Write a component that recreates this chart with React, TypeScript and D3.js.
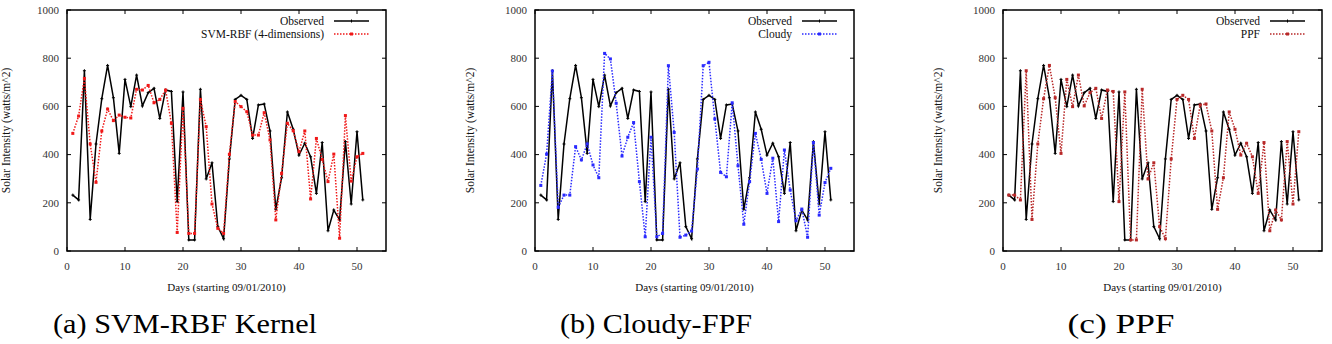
import { useEffect, useRef } from "react";
import * as d3 from "d3";

// days since 09/01/2010
const days = d3.range(1, 52);

const observed = [
  232, 212, 748, 131, 444, 632, 770, 636, 405, 712, 599, 730, 602, 657, 675, 550, 668,
  662, 205, 660, 46, 46, 671, 299, 366, 101, 51, 382, 629, 646, 629, 467, 606, 610, 498,
  173, 304, 577, 505, 398, 447, 391, 239, 450, 84, 170, 129, 454, 195, 495, 212,
];

const svmRbf = [
  488, 560, 716, 444, 285, 498, 589, 541, 564, 555, 552, 671, 668, 687, 615, 629, 668,
  530, 77, 592, 73, 73, 629, 516, 195, 94, 73, 401, 620, 599, 578, 481, 481, 574, 461,
  129, 322, 530, 499, 412, 498, 216, 467, 380, 288, 402, 53, 562, 290, 391, 405,
];

const cloudy = [
  272, 402, 747, 181, 232, 232, 433, 378, 444, 357, 304, 820, 797, 613, 394, 472, 533,
  288, 59, 472, 59, 73, 769, 492, 57, 66, 83, 340, 769, 783, 548, 326, 308, 615, 354,
  111, 288, 488, 380, 239, 385, 122, 419, 253, 126, 174, 57, 450, 149, 284, 343,
];

const ppf = [
  232, 232, 212, 748, 131, 444, 632, 770, 636, 405, 712, 599, 730, 602, 657, 675, 550,
  668, 662, 205, 660, 46, 46, 671, 299, 366, 101, 51, 382, 629, 646, 629, 467, 606, 610,
  498, 173, 304, 577, 505, 398, 447, 391, 239, 450, 84, 170, 129, 454, 195, 495,
];

const xTicks = [0, 10, 20, 30, 40, 50];
const yTicks = [0, 200, 400, 600, 800, 1000];

const panels = [
  { left: 67, label: "SVM-RBF (4-dimensions)", values: svmRbf, color: "#f01818", caption: "(a) SVM-RBF Kernel", capX: 185, capW: 264 },
  { left: 535, label: "Cloudy", values: cloudy, color: "#2a2aff", caption: "(b) Cloudy-FPF", capX: 656, capW: 192 },
  { left: 1003, label: "PPF", values: ppf, color: "#b82828", caption: "(c) PPF", capX: 1121, capW: 107 },
];

const W = 1332;
const H = 344;
const plotW = 319;
const top = 10;
const bottom = 251;
const font = "Liberation Serif, DejaVu Serif, serif";

const App = () => {
  const svgRef = useRef(null);

  useEffect(() => {
    const svg = d3.select(svgRef.current);
    svg.selectAll("*").remove();

    panels.forEach((p) => {
      const x = d3.scaleLinear().domain([0, 55]).range([p.left, p.left + plotW]);
      const y = d3.scaleLinear().domain([0, 1000]).range([bottom, top]);
      const g = svg.append("g");

      const txt = (sel) => sel.attr("font-family", font);

      // ticks (inward, mirrored)
      xTicks.forEach((t) => {
        g.append("line").attr("x1", x(t)).attr("x2", x(t)).attr("y1", bottom).attr("y2", bottom - 4).attr("stroke", "#000");
        g.append("line").attr("x1", x(t)).attr("x2", x(t)).attr("y1", top).attr("y2", top + 4).attr("stroke", "#000");
        g.append("text")
          .call(txt)
          .attr("x", x(t))
          .attr("y", 270)
          .attr("text-anchor", "middle")
          .attr("font-size", 11)
          .attr("fill", "#333")
          .text(t);
      });
      yTicks.forEach((t) => {
        g.append("line").attr("x1", p.left).attr("x2", p.left + 4).attr("y1", y(t)).attr("y2", y(t)).attr("stroke", "#000");
        g.append("line").attr("x1", p.left + plotW).attr("x2", p.left + plotW - 4).attr("y1", y(t)).attr("y2", y(t)).attr("stroke", "#000");
        g.append("text")
          .call(txt)
          .attr("x", p.left - 8)
          .attr("y", y(t))
          .attr("dy", "0.35em")
          .attr("text-anchor", "end")
          .attr("font-size", 11)
          .attr("fill", "#333")
          .text(t);
      });

      const line = d3
        .line()
        .x((d) => x(d[0]))
        .y((d) => y(d[1]));

      const obsPts = days.map((d, i) => [d, observed[i]]);
      const predPts = days.map((d, i) => [d, p.values[i]]);

      g.append("path")
        .attr("d", line(obsPts))
        .attr("fill", "none")
        .attr("stroke", "#000")
        .attr("stroke-width", 1.5);
      g.selectAll(".obs")
        .data(obsPts)
        .enter()
        .append("path")
        .attr("d", (d) => `M${x(d[0]) - 1.5},${y(d[1])}h3M${x(d[0])},${y(d[1]) - 1.5}v3`)
        .attr("stroke", "#000")
        .attr("stroke-width", 1);

      g.append("path")
        .attr("d", line(predPts))
        .attr("fill", "none")
        .attr("stroke", p.color)
        .attr("stroke-width", 1.5)
        .attr("stroke-dasharray", "1.5,1.5");
      g.selectAll(".pred")
        .data(predPts)
        .enter()
        .append("rect")
        .attr("x", (d) => x(d[0]) - 1.5)
        .attr("y", (d) => y(d[1]) - 1.5)
        .attr("width", 3)
        .attr("height", 3)
        .attr("fill", p.color);

      // frame
      g.append("rect")
        .attr("x", p.left)
        .attr("y", top)
        .attr("width", plotW)
        .attr("height", bottom - top)
        .attr("fill", "none")
        .attr("stroke", "#000")
        .attr("stroke-width", 1.5);

      // legend
      const right = p.left + plotW;
      [
        { text: "Observed", color: "#000", dash: null, y: 21, sq: false },
        { text: p.label, color: p.color, dash: "1.5,1.5", y: 34, sq: true },
      ].forEach((l) => {
        g.append("text")
          .call(txt)
          .attr("x", right - 62)
          .attr("y", l.y)
          .attr("dy", "0.35em")
          .attr("text-anchor", "end")
          .attr("font-size", 11.5)
          .attr("fill", "#111")
          .text(l.text);
        g.append("line")
          .attr("x1", right - 52)
          .attr("x2", right - 17)
          .attr("y1", l.y)
          .attr("y2", l.y)
          .attr("stroke", l.color)
          .attr("stroke-width", 1.5)
          .attr("stroke-dasharray", l.dash);
        const cx = right - 34.5;
        if (l.sq) {
          g.append("rect").attr("x", cx - 1.5).attr("y", l.y - 1.5).attr("width", 3).attr("height", 3).attr("fill", l.color);
        } else {
          g.append("path").attr("d", `M${cx},${l.y - 1.5}v3`).attr("stroke", "#000");
        }
      });

      // axis titles
      g.append("text")
        .call(txt)
        .attr("x", (p.left + right) / 2)
        .attr("y", 291)
        .attr("text-anchor", "middle")
        .attr("font-size", 11)
        .attr("fill", "#111")
        .text("Days (starting 09/01/2010)");
      g.append("text")
        .call(txt)
        .attr("transform", `translate(${Math.max(p.left - 61, 10)},${(top + bottom) / 2}) rotate(-90)`)
        .attr("text-anchor", "middle")
        .attr("font-size", 11.5)
        .attr("fill", "#111")
        .text("Solar Intensity (watts/m^2)");

      // caption
      g.append("text")
        .call(txt)
        .attr("x", p.capX)
        .attr("y", 333)
        .attr("text-anchor", "middle")
        .attr("font-size", 27)
        .attr("textLength", p.capW)
        .attr("lengthAdjust", "spacingAndGlyphs")
        .attr("fill", "#000")
        .text(p.caption);
    });
  }, []);

  return (
    <svg
      ref={svgRef}
      width={W}
      height={H}
      style={{ position: "absolute", left: 0, top: 0, background: "#fff" }}
    ></svg>
  );
};

export default App;
